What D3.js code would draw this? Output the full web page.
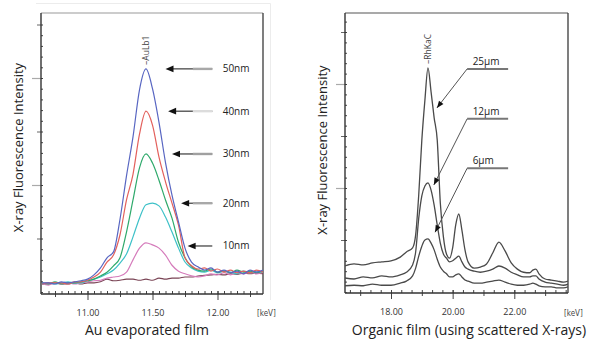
<!DOCTYPE html>
<html><head><meta charset="utf-8">
<script src="https://cdn.jsdelivr.net/npm/d3@7/dist/d3.min.js"></script>
<style>
body{margin:0;background:#fff;}
svg{display:block;}
</style></head><body>
<svg id="c" width="600" height="340"></svg>
<script>
// ---------- Left chart: Au evaporated film ----------
const auEnergy = [10.65,10.70,10.75,10.80,10.85,10.90,10.95,11.00,11.05,11.10,11.15,11.20,11.25,11.30,11.35,11.40,11.45,11.50,11.55,11.60,11.65,11.70,11.75,11.80,11.85,11.90,11.95,12.00,12.05,12.10,12.15,12.20,12.25,12.30,12.35];
const au50nm = [0.17,0.17,0.15,0.19,0.17,0.19,0.21,0.24,0.32,0.45,0.64,0.75,1.36,2.17,2.90,3.78,4.17,3.80,3.17,2.42,1.81,1.31,0.82,0.56,0.47,0.41,0.45,0.37,0.41,0.36,0.39,0.34,0.41,0.37,0.41];
const au40nm = [0.15,0.17,0.17,0.17,0.15,0.19,0.19,0.22,0.28,0.37,0.56,0.69,1.07,1.72,2.20,2.95,3.38,3.12,2.52,2.06,1.66,1.25,0.64,0.49,0.43,0.45,0.39,0.43,0.37,0.41,0.36,0.39,0.36,0.41,0.37];
const au30nm = [0.17,0.15,0.19,0.15,0.17,0.17,0.19,0.21,0.24,0.30,0.37,0.49,0.64,1.12,1.72,2.32,2.58,2.41,2.09,1.72,1.38,0.93,0.64,0.47,0.41,0.39,0.43,0.37,0.39,0.36,0.41,0.37,0.39,0.36,0.39];
const au20nm = [0.15,0.17,0.15,0.17,0.19,0.17,0.17,0.21,0.24,0.28,0.34,0.41,0.54,0.71,1.03,1.38,1.63,1.66,1.61,1.40,1.12,0.82,0.56,0.45,0.39,0.37,0.41,0.36,0.39,0.37,0.34,0.39,0.37,0.39,0.37];
const au10nm = [0.15,0.13,0.17,0.15,0.17,0.15,0.17,0.19,0.21,0.22,0.26,0.28,0.30,0.37,0.60,0.82,0.92,0.88,0.82,0.69,0.50,0.39,0.34,0.30,0.28,0.30,0.34,0.32,0.36,0.32,0.37,0.34,0.37,0.34,0.37];
const auSubstrate = [0.15,0.15,0.17,0.15,0.15,0.17,0.15,0.17,0.17,0.19,0.24,0.21,0.22,0.24,0.24,0.22,0.24,0.22,0.26,0.24,0.26,0.26,0.28,0.28,0.30,0.31,0.32,0.33,0.32,0.34,0.33,0.35,0.34,0.35,0.34];
const auSeriesNames = ["50nm","40nm","30nm","20nm","10nm"];
const auSeriesColors = ["#5866c2","#e3605c","#2ea96b","#3ec1c8","#d57bbb"];
const auSubstrateColor = "#7a4455";
const auArrowTip = [11.60, 11.62, 11.65, 11.72, 11.77];
const auArrowLevel = [4.17, 3.38, 2.58, 1.66, 0.86];
const auArrowDash = ["#a8a8a8","#dcdcdc","#a0a0a0","#a8a8a8",null];
const auXTicks = [11.0, 11.5, 12.0];
const auXTickLabels = ["11.00","11.50","12.00"];

// ---------- Right chart: Organic film ----------
const orgEnergy = [16.5,16.8,17.1,17.4,17.7,18.0,18.3,18.5,18.7,18.8,18.9,19.0,19.1,19.2,19.3,19.4,19.5,19.6,19.7,19.8,19.9,20.0,20.1,20.2,20.3,20.4,20.5,20.7,20.9,21.1,21.3,21.5,21.7,21.9,22.1,22.3,22.5,22.6,22.7,22.8,23.0,23.2,23.4,23.6,23.75];
const org25um = [0.50,0.54,0.52,0.56,0.58,0.60,0.67,0.77,0.85,1.10,1.87,2.92,3.69,4.31,3.85,3.35,2.92,1.71,1.06,0.73,0.65,0.85,1.29,1.50,1.19,0.81,0.58,0.46,0.48,0.54,0.75,0.96,0.79,0.56,0.44,0.38,0.37,0.42,0.44,0.35,0.25,0.23,0.21,0.19,0.21];
const org12um = [0.27,0.25,0.29,0.27,0.31,0.29,0.33,0.38,0.52,0.77,1.42,1.85,2.04,2.10,1.96,1.67,1.29,0.94,0.73,0.65,0.58,0.60,0.65,0.69,0.58,0.48,0.44,0.40,0.38,0.40,0.44,0.50,0.46,0.38,0.33,0.29,0.29,0.31,0.31,0.25,0.19,0.17,0.15,0.13,0.15];
const org6um = [0.12,0.13,0.12,0.15,0.13,0.13,0.17,0.21,0.31,0.46,0.69,0.88,1.00,1.02,0.94,0.81,0.63,0.48,0.40,0.35,0.29,0.29,0.33,0.35,0.29,0.23,0.21,0.17,0.17,0.19,0.21,0.23,0.19,0.15,0.13,0.13,0.15,0.17,0.15,0.12,0.10,0.10,0.08,0.08,0.10];
const orgSeriesNames = ["25µm","12µm","6µm"];
const orgLabelLevel = [4.29, 3.33, 2.38];
const orgArrowTip = [[19.49,3.54],[19.39,2.06],[19.43,1.15]];
const orgLeader = [20.47, 21.80];
const orgXTicks = [18, 20, 22];
const orgXTickLabels = ["18.00","20.00","22.00"];

const FONT = "'Open Sans','Noto Sans',sans-serif";
const svg = d3.select("#c");
const defs = svg.append("defs");

function zipSeries(xs, ys){ return xs.map((x,i)=>[x, ys[i]]); }

function drawPanel(cfg){
  const g = svg.append("g");
  const {x0,x1,y0,y1} = cfg.frame;
  const x = cfg.x, y = cfg.y;
  const clipId = cfg.id + "clip";
  defs.append("clipPath").attr("id", clipId).append("rect")
    .attr("x", x0).attr("y", y0).attr("width", x1-x0).attr("height", y1-y0);

  // frame
  g.append("line").attr("x1",x0).attr("x2",x1).attr("y1",y0).attr("y2",y0).attr("stroke",cfg.topColor).attr("stroke-width",1.2);
  g.append("line").attr("x1",x1).attr("x2",x1).attr("y1",y0).attr("y2",y1).attr("stroke","#3a3a3a").attr("stroke-width",1.3);

  // bottom axes
  const bx = g.append("g").attr("transform",`translate(0,${y1})`);
  const minorX = bx.append("g").call(d3.axisBottom(x).tickValues(cfg.xMinor).tickSize(-3).tickFormat(""));
  const medX = bx.append("g").call(d3.axisBottom(x).tickValues(cfg.xMed).tickSize(3).tickFormat(""));
  const majX = bx.append("g").call(d3.axisBottom(x).tickValues(cfg.xMajor).tickSizeInner(6).tickSizeOuter(0).tickPadding(10)
      .tickFormat((d,i)=>cfg.xLabels[i]));
  [minorX, medX, majX].forEach(a=>{ a.select(".domain").remove(); a.selectAll(".tick line").attr("stroke","#444").attr("stroke-width",1); });
  majX.selectAll(".tick line").attr("y1",-3);
  majX.selectAll("text").attr("font-family",FONT).attr("font-size",9).attr("fill","#333");
  g.append("line").attr("x1",x0).attr("x2",x1).attr("y1",y1).attr("y2",y1).attr("stroke","#333").attr("stroke-width",1.4);

  // left axes
  const ly = g.append("g").attr("transform",`translate(${x0},0)`);
  const minorY = ly.append("g").call(d3.axisLeft(y).tickValues(cfg.yMinor).tickSize(-2).tickFormat(""));
  const shortY = ly.append("g").call(d3.axisLeft(y).tickValues([1,3,5]).tickSize(4).tickFormat(""));
  const longY = ly.append("g").call(d3.axisLeft(y).tickValues([2,4]).tickSize(9).tickFormat(""));
  [minorY, shortY, longY].forEach(a=>a.select(".domain").remove());
  minorY.selectAll(".tick line").attr("stroke","#444");
  shortY.selectAll(".tick line").attr("stroke","#666");
  longY.selectAll(".tick line").attr("stroke","#aaa").attr("stroke-width",1.2);
  g.append("line").attr("x1",x0).attr("x2",x0).attr("y1",y0).attr("y2",y1).attr("stroke","#333").attr("stroke-width",1.4);

  // keV unit
  g.append("text").attr("x",cfg.kevX).attr("y",316).attr("font-family","'DejaVu Sans Condensed','DejaVu Sans',sans-serif")
    .attr("font-size",8).attr("fill","#444").text("[keV]");

  // y title
  g.append("text").attr("transform",`translate(${cfg.yTitleX},${cfg.yTitleY}) rotate(-90)`)
    .attr("text-anchor","middle").attr("dy","0.35em").attr("font-family",FONT).attr("font-size",13).attr("fill","#222")
    .text("X-ray Fluorescence Intensity");
  // x title
  g.append("text").attr("x",cfg.xTitleX).attr("y",335).attr("text-anchor","middle")
    .attr("font-family",FONT).attr("font-size",cfg.xTitleSize).attr("fill","#222").text(cfg.xTitle);

  // curves
  const line = d3.line().x(d=>x(d[0])).y(d=>y(d[1])).curve(d3.curveMonotoneX);
  const cg = g.append("g").attr("clip-path",`url(#${clipId})`);
  cfg.series.forEach(s=>{
    cg.append("path").attr("d", line(zipSeries(cfg.energy, s.values)))
      .attr("fill","none").attr("stroke",s.color).attr("stroke-width",s.width||1.2).attr("stroke-linejoin","round");
  });

  // peak label
  const pk = cfg.peak;
  g.append("text").attr("transform",`translate(${x(pk.e)},${y(pk.v)-4}) rotate(-90)`)
    .attr("dy","0.35em").attr("font-family",FONT).attr("font-size",8.5).attr("fill","#444").text(pk.label);
  return g;
}

// ---------- Left ----------
const xL = d3.scaleLinear().domain([11,12]).range([87.5,217.5]);
const yL = d3.scaleLinear().domain([0,5]).range([292,24.5]);
// faint outer frame
svg.append("path").attr("d","M36,3.5H270.5V300").attr("fill","none").attr("stroke","#ececec");
const gL = drawPanel({
  id:"L", frame:{x0:41,x1:263,y0:13,y1:294}, x:xL, y:yL, topColor:"#9a9a9a",
  xMinor:d3.range(10.70,12.34,0.05), xMed:[10.75,11.25,11.75,12.25], xMajor:auXTicks, xLabels:auXTickLabels,
  yMinor:d3.range(0,5.2,0.2), kevX:257, yTitleX:18, yTitleY:147.5, xTitleX:147, xTitle:"Au evaporated film", xTitleSize:14,
  energy:auEnergy,
  series:[{values:auSubstrate,color:auSubstrateColor,width:1.1},
          {values:au10nm,color:auSeriesColors[4]},{values:au20nm,color:auSeriesColors[3]},
          {values:au30nm,color:auSeriesColors[2]},{values:au40nm,color:auSeriesColors[1]},
          {values:au50nm,color:auSeriesColors[0]}],
  peak:{e:11.45, v:4.17, label:"–AuLb1"}
});
// arrows + labels
auSeriesNames.forEach((name,i)=>{
  const yy = yL(auArrowLevel[i]);
  const tx = xL(auArrowTip[i]);
  const ex = xL(11.96);
  gL.append("line").attr("x1",tx+6).attr("x2",ex).attr("y1",yy).attr("y2",yy).attr("stroke","#111").attr("stroke-width",1);
  if (auArrowDash[i]) gL.append("line").attr("x1",xL(11.81)).attr("x2",ex).attr("y1",yy).attr("y2",yy).attr("stroke",auArrowDash[i]).attr("stroke-width",2.4);
  gL.append("path").attr("d",`M${tx},${yy}L${tx+8},${yy-3.3}L${tx+8},${yy+3.3}Z`).attr("fill","#111");
  gL.append("text").attr("x",xL(12.04)).attr("y",yy).attr("dy","0.35em").attr("font-family",FONT).attr("font-size",10).attr("fill","#222").text(name);
});

// ---------- Right ----------
const xR = d3.scaleLinear().domain([18,22]).range([391,514.3]);
const yR = d3.scaleLinear().domain([0,5]).range([292,32]);
const gR = drawPanel({
  id:"R", frame:{x0:345,x1:568,y0:13,y1:293}, x:xR, y:yR, topColor:"#555",
  xMinor:d3.range(16.6667,23.7,1/3), xMed:[17,19,21,23], xMajor:orgXTicks, xLabels:orgXTickLabels,
  yMinor:d3.range(0,5.4,0.2), kevX:564, yTitleX:322, yTitleY:150, xTitleX:469, xTitle:"Organic film (using scattered X-rays)", xTitleSize:14,
  energy:orgEnergy,
  series:[{values:org6um,color:"#4a4a4a",width:1.3},{values:org12um,color:"#4a4a4a",width:1.3},{values:org25um,color:"#4a4a4a",width:1.3}],
  peak:{e:19.2, v:4.31, label:"–RhKaC"}
});
orgSeriesNames.forEach((name,i)=>{
  const ly = yR(orgLabelLevel[i]);
  const lx0 = xR(orgLeader[0]), lx1 = xR(orgLeader[1]);
  const tx = xR(orgArrowTip[i][0]), ty = yR(orgArrowTip[i][1]);
  gR.append("line").attr("x1",lx0).attr("x2",lx1).attr("y1",ly).attr("y2",ly).attr("stroke","#777").attr("stroke-width",2);
  gR.append("line").attr("x1",lx0).attr("y1",ly).attr("x2",tx).attr("y2",ty).attr("stroke","#555").attr("stroke-width",1);
  const ang = Math.atan2(ty-ly, tx-lx0);
  const L = 7, W = 2.8;
  const bx = tx - L*Math.cos(ang), by = ty - L*Math.sin(ang);
  const px = -Math.sin(ang)*W, py = Math.cos(ang)*W;
  gR.append("path").attr("d",`M${tx},${ty}L${bx+px},${by+py}L${bx-px},${by-py}Z`).attr("fill","#111");
  gR.append("text").attr("x",lx0+5.5).attr("y",ly-4).attr("font-family",FONT).attr("font-size",10).attr("fill","#222").text(name);
});
</script>
</body></html>
